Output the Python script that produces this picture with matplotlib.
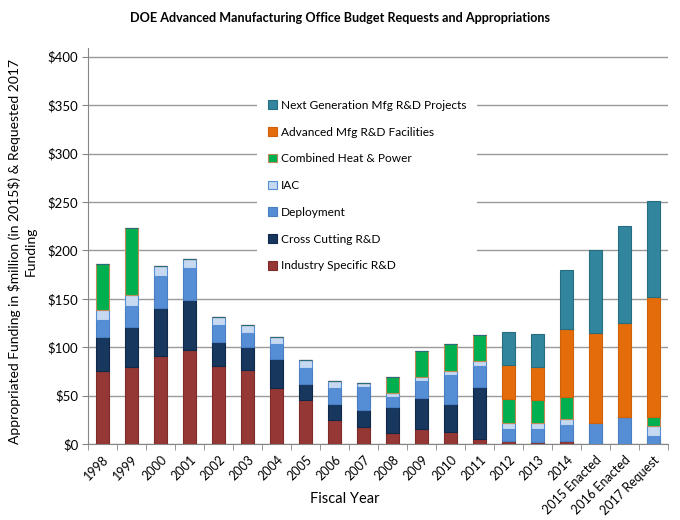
import numpy as np
import matplotlib
matplotlib.use("Agg")
import matplotlib.pyplot as plt

plt.rcParams['font.family'] = ['Lato', 'DejaVu Sans']

# Haushaltsdaten ($million, 2015$)
years = ["1998", "1999", "2000", "2001", "2002", "2003", "2004", "2005", "2006", "2007",
         "2008", "2009", "2010", "2011", "2012", "2013", "2014",
         "2015 Enacted", "2016 Enacted", "2017 Request"]

industry = [75, 80, 91, 97, 81, 76, 58, 45, 25, 18, 11, 16, 12, 5, 3, 2.5, 3, 0, 0, 0]
cross    = [35, 41, 49, 52, 24, 24, 30, 17, 16, 17, 27, 32, 29, 54, 0, 0, 0, 0, 0, 0]
deploy   = [18, 22, 34, 33, 18, 15, 15, 17, 17, 24, 11, 17, 30, 22, 13, 13.5, 17, 22, 28, 8.6]
iac      = [10, 11, 10, 9, 8, 8, 8, 8, 7, 4, 4, 4, 4, 5, 6, 6, 6, 0, 0, 10]
chp      = [48, 69, 0, 0, 0, 0, 0, 0, 0, 0, 16, 27, 28, 27, 24, 23, 23, 0, 0, 9.3]
amf      = [0, 0, 0, 0, 0, 0, 0, 0, 0, 0, 0, 0, 0, 0, 36, 35, 70, 93, 97, 124]
nextgen  = [0, 0, 0, 0, 0, 0, 0, 0, 0, 0, 0, 0, 0, 0, 34, 34, 61, 85, 100, 99]

series = [
    ("Industry Specific R&D", industry, "#953735", "#7f2b29"),
    ("Cross Cutting R&D", cross, "#17375e", "#10294a"),
    ("Deployment", deploy, "#558ed5", "#4a7ec0"),
    ("IAC", iac, "#c6d9f1", "#558ed5"),
    ("Combined Heat & Power", chp, "#00b050", "#c0895a"),
    ("Advanced Mfg R&D Facilities", amf, "#e46c0a", "#d0600a"),
    ("Next Generation Mfg R&D Projects", nextgen, "#31859c", "#256e82"),
]

fig = plt.figure(figsize=(6.8, 5.2), dpi=100)
ax = fig.add_axes([88/680, 76/520, 580/680, 396/520])

x = np.arange(len(years))
bottom = np.zeros(len(years))
handles = []
for name, vals, col, edge in series:
    vals = np.array(vals, dtype=float)
    b = ax.bar(x, vals, 0.42, bottom=bottom, color=col, edgecolor=edge,
               linewidth=0.8, label=name, zorder=3)
    handles.append(b)
    bottom += vals

ax.set_xlim(-0.5, len(years) - 0.5)
ax.set_ylim(0, 409)
ax.set_yticks(np.arange(0, 401, 50))
ax.set_yticklabels([r"\$%d" % v for v in range(0, 401, 50)], fontsize=9.5)
ax.yaxis.grid(True, color="#9a9a9a", linewidth=1.0, zorder=0)
ax.set_axisbelow(True)

ax.set_xticks(x)
ax.set_xticklabels(years, rotation=45, ha="right", rotation_mode="anchor", fontsize=9)
ax.set_xticks(np.arange(-0.5, len(years)), minor=True)
ax.tick_params(axis="x", which="major", length=0, pad=7)
ax.tick_params(axis="x", which="minor", length=4, color="#868686")
ax.tick_params(axis="y", length=4, color="#868686", pad=3)

for s in ["top", "right"]:
    ax.spines[s].set_visible(False)
for s in ["left", "bottom"]:
    ax.spines[s].set_color("#868686")

leg = ax.legend(handles[::-1], [s[0] for s in series][::-1],
                loc="upper left", bbox_to_anchor=(169/580, (444-89)/396),
                fontsize=8.6, frameon=True, framealpha=1, edgecolor="none",
                handlelength=0.75, handleheight=0.75, handletextpad=0.35,
                labelspacing=1.32, borderpad=0.9, borderaxespad=0)
leg.set_zorder(5)

fig.text(340/680, 1 - 18/520, "DOE Advanced Manufacturing Office Budget Requests and Appropriations",
         ha="center", va="center", fontsize=9.1, fontweight="bold")
fig.text(22/680, 0.5 + (520/2 - 251)/520,
         "Appropriated Funding in \\$million (in 2015\\$) & Requested 2017\nFunding",
         ha="center", va="center", rotation=90, fontsize=10, linespacing=1.35)
fig.text(345/680, 1 - 499/520, "Fiscal Year", ha="center", va="center", fontsize=10.5)

fig.savefig("out.png", dpi=100)
